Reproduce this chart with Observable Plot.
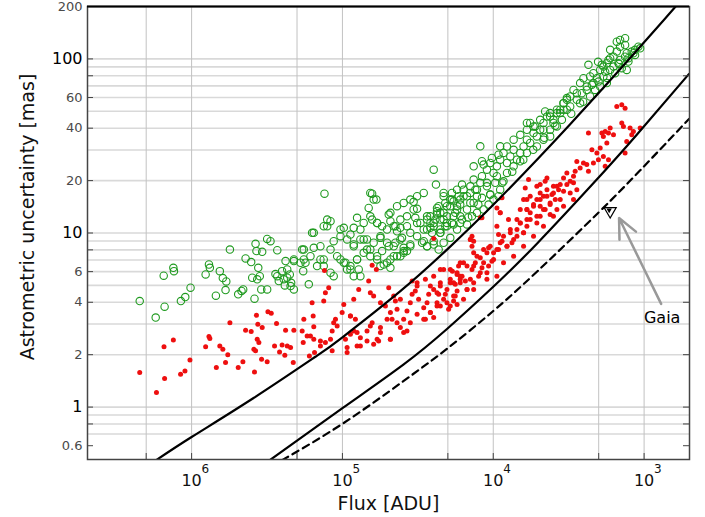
<!DOCTYPE html>
<html>
<head>
<meta charset="utf-8">
<script src="https://cdn.jsdelivr.net/npm/d3@7"></script>
<script src="https://cdn.jsdelivr.net/npm/@observablehq/plot@0.6"></script>
<style>
  body { margin: 0; background: #fff; }
</style>
</head>
<body>
<div id="chart"></div>
<script>
// Values as [log10(flux ADU), log10(uncertainty mas)]

// green open circles
const greenLog = [
[6.344,0.609],[6.238,0.514],[6.179,0.577],[6.185,0.755],[6.121,0.800],[6.117,0.781],[6.071,0.609],[6.042,0.632],[6.007,0.686],[5.907,0.762],
[5.885,0.819],[5.879,0.800],[5.813,0.781],[5.793,0.741],[5.770,0.722],[5.775,0.672],[5.839,0.640],[5.746,0.905],[5.691,0.648],[5.669,0.667],
[5.658,0.676],[5.642,0.854],[5.605,0.833],[5.576,0.938],[5.570,0.896],[5.565,0.734],[5.598,0.743],[5.583,0.623],[5.558,0.800],[5.548,0.752],
[5.532,0.892],[5.538,0.676],[5.499,0.676],[5.499,0.966],[5.477,0.953],[5.432,0.901],[5.444,0.764],[5.422,0.724],[5.400,0.781],[5.382,0.699],
[5.377,0.839],[5.366,0.743],[5.349,0.762],[5.340,0.714],[5.322,0.676],[5.322,0.839],[5.267,0.905],[5.256,0.848],[5.245,0.829],[5.260,0.781],
[5.223,0.705],[5.201,1.001],[5.190,0.915],[5.119,1.226],
[4.395,1.364],[4.380,1.278],[4.803,1.226],[4.775,1.192],[4.826,1.144],[4.528,1.179],[4.505,1.139],[5.101,1.077],[5.079,1.068],[5.124,1.039],
[4.991,1.030],[4.925,1.030],[4.881,1.020],[4.903,1.087],[4.803,1.077],[4.770,1.058],[4.737,1.039],[4.693,1.106],[4.682,1.068],[4.649,1.039],
[4.638,1.010],[4.616,1.030],[4.572,1.039],[4.517,1.087],[4.483,1.058],[4.439,1.077],[4.417,1.030],[4.395,1.058],[4.373,1.106],[4.362,1.154],
[4.351,1.077],[4.329,1.116],[4.307,1.096],[4.285,1.154],[4.263,1.182],[4.240,1.135],[4.229,1.211],[4.219,1.096],[4.307,1.039],[4.263,1.049],
[5.058,0.953],[5.146,0.924],[5.013,0.982],[4.947,0.991],[4.925,0.934],[4.859,0.963],[4.837,0.905],[4.748,0.972],[4.704,0.944],[4.660,0.924],
[4.616,0.963],[4.594,0.915],[4.550,0.934],[4.572,0.896],[4.505,0.982],[4.461,0.953],[4.439,0.924],[4.406,1.001],[4.395,0.934],[4.351,1.001],
[5.146,0.848],[5.124,0.810],[5.079,0.772],[5.058,0.752],[5.013,0.848],[4.980,0.829],[4.969,0.791],[4.947,0.810],[4.903,0.848],[4.892,0.791],
[4.925,0.752],[4.881,0.752],[4.815,0.867],[4.770,0.848],[4.748,0.810],[4.704,0.829],[4.682,0.800],[4.660,0.867],[4.616,0.867],[4.594,0.886],
[4.461,1.020],[4.417,1.058],[4.439,1.096],[4.384,1.077],[4.351,1.116],[4.373,1.144],[4.318,1.173],[4.285,1.192],[4.329,1.211],[4.274,1.230],
[4.240,1.154],[4.219,1.192],[4.197,1.249],[4.207,1.278],[4.152,1.268],[4.130,1.307],[4.174,1.211],[4.119,1.249],[4.086,1.288],[4.075,1.326],
[4.042,1.364],[4.064,1.393],[4.020,1.402],[3.998,1.345],[4.042,1.288],[3.976,1.383],[3.954,1.421],[3.932,1.460],[3.965,1.450],[3.909,1.402],
[3.887,1.440],[3.865,1.478],[3.843,1.421],[3.821,1.460],[3.799,1.497],[3.777,1.536],[3.755,1.517],[3.733,1.574],[3.711,1.555],[3.689,1.593],
[3.722,1.612],[3.667,1.632],[3.644,1.669],[3.623,1.593],[3.601,1.650],[3.578,1.689],[3.556,1.708],[3.534,1.746],[3.512,1.765],[4.152,1.173],
[4.263,1.096],[4.307,1.058],[4.351,1.020],[4.219,1.058],[4.108,1.211],[3.976,1.326],[3.909,1.345],[3.865,1.383],[3.821,1.412],[3.777,1.460],
[3.711,1.497],[3.667,1.536],[3.623,1.555],[3.578,1.612],[3.545,1.650],[4.130,1.383],[4.075,1.412],[4.009,1.431],[4.086,1.498],[3.954,1.498],
[3.777,1.632],[3.755,1.632],[3.656,1.698],[3.623,1.689],
[4.166,1.089],[4.099,1.163],[4.020,1.221],[3.940,1.289],[3.874,1.352],[3.801,1.421],[3.735,1.478],[3.662,1.547],[3.589,1.616],
[3.512,1.775],[3.468,1.822],[3.424,1.861],[3.402,1.889],[3.380,1.841],[3.358,1.899],[3.336,1.918],[3.313,1.889],[3.291,1.937],[3.270,1.956],
[3.247,1.975],[3.225,2.004],[3.203,2.013],[3.181,2.042],[3.159,2.070],[3.181,2.099],[3.126,2.119],[3.071,2.033],[3.026,2.061],[3.115,1.937],
[3.369,1.966],[3.305,1.983],[3.446,1.765],[3.490,1.727],[3.534,1.708],[3.413,1.803],[3.346,1.851],[3.302,1.870],[3.258,1.926],[3.203,1.956],
[3.159,1.994],[3.115,2.033],[3.225,2.052],[3.556,1.689],
[3.404,1.754],[3.325,1.822],[3.245,1.891],[3.166,1.971],[3.483,1.685],
[3.159,2.109],[3.126,2.080],[3.104,2.004],[3.060,2.052],[3.280,1.966],[3.236,1.994],
[4.417,1.096],[4.373,1.125],[4.329,1.077],[4.307,1.154],[4.274,1.192],[4.252,1.116],[4.219,1.163],[4.197,1.211],[4.174,1.135],[4.152,1.230],
[4.130,1.173],[4.108,1.249],[4.075,1.202],[4.042,1.268],[4.020,1.221],[3.987,1.288],[3.954,1.249],[3.932,1.297],[4.439,1.020],[4.395,1.039],
[4.351,1.001],[4.318,1.039],[4.274,1.058],[4.240,1.020],[4.207,1.077],[4.174,1.049],[4.141,1.096],[4.108,1.116],[4.064,1.135],[4.031,1.163],
[3.998,1.192],[3.965,1.211],[4.472,0.944],[4.439,0.924],[4.395,0.953],[4.362,0.905],[4.329,0.944],[4.285,0.972],
[4.550,0.924],[4.594,0.896],[4.638,0.867],[4.682,0.848],[4.726,0.819],[4.770,0.867],[4.815,0.905],[4.837,0.963],[4.748,0.982],[4.704,1.020],
[4.660,1.039],[4.616,1.077],[4.572,1.096],[4.528,1.135],[4.505,1.058],[4.550,1.001],[4.605,0.972],[4.649,0.944],[4.693,0.924],[4.737,0.896],
[4.793,0.944],[4.859,0.886],[4.903,0.848],[4.947,0.791],[4.991,0.829],[5.035,0.867],[5.079,0.905],[5.124,0.848],[5.168,0.810],[5.212,0.867],
[5.256,0.905],[5.278,0.829],[5.322,0.848],[5.366,0.791],[5.389,0.734],[5.344,0.695],[5.432,0.752],[4.925,0.924],[4.881,0.963],[4.969,0.963],
[5.013,1.020],[5.101,1.039],[5.190,1.001],[4.859,1.058],[4.815,1.096],[4.770,1.058],[4.682,1.116],[4.638,1.154],[4.594,1.173],[4.550,1.192],
[4.505,1.211],[4.461,1.230],[4.815,1.230],[4.793,1.192],[4.329,1.230],[4.240,1.249],
[3.909,1.497],[3.865,1.536],[3.821,1.564],[3.777,1.593],[3.733,1.612],[3.689,1.650],[3.667,1.593],[3.623,1.669],[3.601,1.632],[3.578,1.708],
[3.534,1.746],[3.512,1.708],[3.490,1.784],[3.446,1.803],[3.424,1.746],[3.380,1.822],[3.358,1.784],[3.336,1.861],[3.291,1.841],[3.270,1.899],
[3.247,1.861],[3.225,1.937],[3.192,1.918],[3.170,1.975],[3.148,1.947],[3.126,2.013],[3.104,1.985],[3.082,2.042],[3.060,2.023],[3.038,2.070]
];

// red filled dots
const redLog = [
[6.344,0.199],[6.233,0.084],[6.179,0.164],[6.183,0.346],[6.121,0.386],[6.073,0.189],[6.044,0.208],[6.011,0.271],[5.907,0.346],[5.885,0.405],
[5.879,0.394],[5.813,0.351],[5.793,0.332],[5.760,0.300],[5.775,0.256],[5.836,0.228],[5.746,0.485],[5.691,0.228],[5.660,0.260],[5.642,0.441],
[5.605,0.434],[5.583,0.202],[5.570,0.527],[5.561,0.476],[5.565,0.390],[5.554,0.371],[5.587,0.332],[5.576,0.323],[5.536,0.275],[5.532,0.457],
[5.499,0.260],[5.494,0.548],[5.472,0.539],[5.437,0.480],[5.450,0.351],[5.417,0.317],[5.400,0.357],[5.382,0.298],[5.377,0.441],[5.366,0.351],
[5.344,0.342],[5.326,0.256],[5.322,0.441],[5.267,0.437],[5.256,0.504],[5.260,0.371],[5.234,0.409],[5.219,0.294],[5.201,0.600],[5.194,0.523],
[5.190,0.462],[5.190,0.390],[5.185,0.313],
[4.395,0.968],[4.803,0.815],[4.775,0.791],[5.119,0.785],[4.285,0.791],[4.351,0.791],
[5.091,0.686],[5.113,0.657],[5.124,0.609],[5.146,0.380],[5.113,0.371],[5.068,0.323],[5.058,0.485],[5.068,0.437],[5.046,0.504],[4.991,0.590],
[5.002,0.543],[4.947,0.523],[4.925,0.619],[4.892,0.676],[4.914,0.504],[4.925,0.437],[4.947,0.418],[4.980,0.390],[4.969,0.342],[4.903,0.351],
[4.837,0.380],[4.881,0.399],[4.837,0.437],[4.803,0.485],[4.793,0.361],[4.760,0.380],[4.748,0.428],[4.748,0.457],[4.826,0.724],[4.815,0.657],
[4.793,0.638],[4.748,0.600],[4.715,0.581],[4.693,0.686],[4.660,0.638],[4.649,0.609],[4.616,0.619],[4.638,0.562],[4.682,0.543],[4.671,0.504],
[4.638,0.485],[4.616,0.457],[4.594,0.504],[4.572,0.437],[4.682,0.390],[4.572,0.552],[4.550,0.600],[4.538,0.648],[4.517,0.667],[4.495,0.619],
[4.505,0.533],[4.461,0.571],[4.439,0.600],[4.450,0.504],[4.417,0.543],[4.395,0.514],[4.428,0.648],[4.395,0.676],[4.373,0.600],[4.351,0.581],
[4.362,0.648],[4.329,0.619],[4.307,0.600],[4.296,0.562],[4.263,0.609],[4.240,0.590],[4.240,0.667],[4.307,0.676],[4.285,0.714],[4.252,0.705],
[4.219,0.734],[4.351,0.714],[4.395,0.752],[4.450,0.734],[4.505,0.714],[4.417,0.695],[4.538,0.724],[4.240,0.762],[4.271,0.781],
[3.148,1.632],[3.137,1.612],[3.071,1.583],[3.082,1.564],[3.115,1.526],[3.126,1.460],[3.203,1.564],[3.236,1.574],[3.270,1.555],[3.280,1.574],
[3.369,1.574],[3.247,1.517],[3.291,1.488],[3.313,1.460],[3.346,1.478],[3.303,1.421],[3.270,1.440],[3.236,1.421],[3.258,1.383],[3.336,1.402],
[3.369,1.354],[3.380,1.393],[3.402,1.402],[3.424,1.374],[3.446,1.411],[3.457,1.354],[3.468,1.326],[3.512,1.345],[3.490,1.297],[3.534,1.316],
[3.556,1.278],[3.567,1.249],[3.601,1.268],[3.611,1.221],[3.644,1.316],[3.644,1.249],[3.667,1.211],[3.689,1.230],[3.711,1.192],[3.733,1.163],
[3.689,1.154],[3.656,1.135],[3.623,1.163],[3.589,1.192],[3.578,1.135],[3.623,1.106],[3.689,1.096],[3.711,1.058],[3.755,1.077],[3.777,1.039],
[3.821,1.058],[3.799,1.001],[3.843,1.077],[3.899,1.077],[3.887,1.020],[3.843,0.982],[3.876,0.944],[3.909,0.924],[3.942,0.953],[3.965,0.991],
[3.976,1.039],[3.954,1.116],[3.965,0.905],[3.998,0.886],[4.031,0.915],[4.064,0.905],[4.086,0.858],[4.130,0.886],[4.141,0.924],[4.152,0.963],
[4.119,0.829],[4.075,0.800],[4.031,0.810],[4.009,0.838],[4.042,0.772],[4.097,0.752],[4.141,0.791],[4.174,0.810],[4.197,0.829],[4.230,0.810],
[4.219,0.752],[4.185,0.724],[4.263,0.714],[4.318,0.648],[4.252,0.638],[4.174,0.676],[4.130,0.714],[3.755,1.211],[3.777,1.192],[3.788,1.259],
[3.766,1.307],[3.711,1.268],[3.689,1.278],[3.777,1.135],[3.821,1.135],[3.656,1.297],[3.942,1.202],[3.976,1.144],[4.075,1.087],[4.141,0.982],
[4.130,0.953],
[3.181,1.727],[3.148,1.736],[3.126,1.717],[3.225,1.603],[3.258,1.583],[3.093,1.603],[3.026,1.603],
[4.373,0.657],[4.351,0.695],[4.285,0.734],[4.263,0.638],[4.240,0.772],[4.219,0.714],[4.207,0.752],[4.174,0.676],[4.152,0.734],[4.130,0.810],
[4.108,0.867],[4.086,0.772],[4.064,0.829],[4.042,0.886],[4.020,0.924],[3.998,0.848],[3.976,0.905],[3.954,0.944],[3.932,0.982],[3.909,0.924],
[3.887,1.001],[3.865,0.963],[3.843,1.020],[3.821,1.058],[3.799,1.001],[3.777,1.077],[3.755,1.116],[3.733,1.154],[3.711,1.096],[3.689,1.192],
[3.667,1.135],[3.644,1.211],[3.623,1.173],[3.601,1.230],[3.578,1.268],[3.556,1.192],[3.534,1.240],[3.512,1.278],[3.490,1.230],[3.468,1.288],
[3.446,1.249],[3.799,1.192],[3.777,1.135],[3.954,1.116],[4.086,1.087],[4.152,0.963],[4.219,0.829],[4.329,0.791],[4.505,0.695],[4.704,0.504],
[4.815,0.466],[4.903,0.428],[4.947,0.523],[5.035,0.466],[5.079,0.390],[5.146,0.351],[5.212,0.409],[4.969,0.313],[4.881,0.351],[4.770,0.390],
[4.682,0.390],[4.594,0.428],[4.550,0.485],[4.461,0.504],[4.417,0.543],[4.373,0.581],[4.285,0.581],[4.197,0.619],[4.130,0.676],[4.042,0.734],
[3.976,0.752],[3.932,0.829],[3.865,0.867],[3.799,0.924],[3.733,0.982],[3.667,1.039],[3.601,1.096],[3.534,1.154],[3.468,1.192]
];

// model curves
const curveUpperLog = [[6.235,-0.305],[6.000,-0.172],[5.589,0.052],[5.179,0.289],[5.000,0.401],[4.616,0.666],[4.305,0.906],[4.000,1.162],[3.490,1.625],[2.960,2.134],[2.695,2.397]];
const curveLowerLog = [[5.482,-0.305],[5.000,-0.006],[4.596,0.244],[4.305,0.450],[4.000,0.691],[3.709,0.940],[3.338,1.284],[3.060,1.553],[2.702,1.914]];
const curveDashedLog = [[5.400,-0.305],[5.000,-0.096],[4.596,0.149],[4.305,0.336],[4.000,0.552],[3.709,0.779],[3.305,1.115],[3.026,1.360],[2.702,1.655]];

// Gaia annotation
const gaiaLog = [3.225, 1.126];
const gaiaArrowLog = {from: [2.887, 0.593], to: [3.166, 1.086]};
const gaiaLabelLog = [2.880, 0.513];
const gaiaText = "Gaia";

// axes
const xDomain = [4.9e6, 500];
const yDomain = [0.5, 200];
const xTicks = [1e6, 1e5, 1e4, 1e3];
const xExponents = ["6", "5", "4", "3"];
const xGrid = [2e6, 1e6, 2e5, 1e5, 2e4, 1e4, 2e3, 1e3];
const yMajorTicks = [1, 10, 100];
const yMajorLabels = ["1", "10", "100"];
const yMinorTicks = [0.6, 2, 4, 6, 20, 40, 60, 200];
const yMinorLabels = ["0.6", "2", "4", "6", "20", "40", "60", "200"];
const yTickMarks = [0.6, 0.8, 1, 2, 4, 6, 8, 10, 20, 40, 60, 80, 100, 200];
const yGrid = [0.7,0.8,0.9,1,2,3,4,5,6,7,8,9,10,20,30,40,50,60,70,80,90,100,200];
const xTitle = "Flux [ADU]";
const yTitle = "Astrometric uncertainty [mas]";

const toPt = ([lf, ls]) => ({flux: 10 ** lf, sigma: 10 ** ls});
const green = greenLog.map(toPt);
const red = redLog.map(toPt);
const curveUpper = curveUpperLog.map(toPt);
const curveLower = curveLowerLog.map(toPt);
const curveDashed = curveDashedLog.map(toPt);
const gaia = [toPt(gaiaLog)];
const arrow = [{x1: 10 ** gaiaArrowLog.from[0], y1: 10 ** gaiaArrowLog.from[1], x2: 10 ** gaiaArrowLog.to[0], y2: 10 ** gaiaArrowLog.to[1]}];
const gaiaLabel = [{...toPt(gaiaLabelLog), text: gaiaText}];

const W = 705, H = 517, mL = 87, mR = 16, mT = 6, mB = 58;
const innerW = W - mL - mR, innerH = H - mT - mB;

const chart = Plot.plot({
  width: W, height: H,
  marginLeft: mL, marginRight: mR, marginTop: mT, marginBottom: mB,
  style: {fontFamily: "DejaVu Sans, sans-serif", background: "#fff", overflow: "visible"},
  x: {type: "log", domain: xDomain, axis: null},
  y: {type: "log", domain: yDomain, axis: null},
  marks: [
    Plot.ruleY(yGrid, {stroke: "#d9d9d9", strokeWidth: 1.6}),
    Plot.ruleX(xGrid, {stroke: "#c2c2c2", strokeWidth: 1}),
    Plot.dot(green, {x: "flux", y: "sigma", r: 3.7, stroke: "#1f9a1f", strokeWidth: 1.1, fill: "none"}),
    Plot.dot(red, {x: "flux", y: "sigma", r: 2.5, fill: "#ee0f0f", stroke: "none"}),
    Plot.line(curveUpper, {x: "flux", y: "sigma", stroke: "#000", strokeWidth: 2.2, curve: "natural", clip: true}),
    Plot.line(curveLower, {x: "flux", y: "sigma", stroke: "#000", strokeWidth: 2.2, curve: "natural", clip: true}),
    Plot.line(curveDashed, {x: "flux", y: "sigma", stroke: "#000", strokeWidth: 2.2, strokeDasharray: "7,5", curve: "natural", clip: true}),
    Plot.arrow(arrow, {x1: "x1", y1: "y1", x2: "x2", y2: "y2", bend: 0, stroke: "#999", strokeWidth: 2.5, headLength: 13, headAngle: 50}),
    Plot.dot(gaia, {x: "flux", y: "sigma", symbol: "triangle", rotate: 180, r: 4.5, fill: "#fff", stroke: "#000", strokeWidth: 1.2}),
    Plot.dot(gaia, {x: "flux", y: "sigma", symbol: "triangle", rotate: 180, r: 2, dx: -1, dy: -1, fill: "#000", stroke: "none"}),
    Plot.text(gaiaLabel, {x: "flux", y: "sigma", text: "text", fontSize: 16, fill: "#000"}),
    Plot.ruleY(yTickMarks, {insetRight: innerW - 6, stroke: "#444", strokeWidth: 1}),
    Plot.ruleY(yTickMarks, {insetLeft: innerW - 6, stroke: "#444", strokeWidth: 1}),
    Plot.ruleX(xGrid, {insetTop: innerH - 6, stroke: "#444", strokeWidth: 1}),
    Plot.frame({stroke: "#444", strokeWidth: 1.5}),
    Plot.ruleY([200], {stroke: "#000", strokeWidth: 2}),
    Plot.text(yMajorTicks, {y: d => d, frameAnchor: "left", textAnchor: "end", lineAnchor: "middle", text: (d, i) => yMajorLabels[i], dx: -5, fontSize: 16, fill: "#000"}),
    Plot.text(yMinorTicks, {y: d => d, frameAnchor: "left", textAnchor: "end", lineAnchor: "middle", text: (d, i) => yMinorLabels[i], dx: -5, fontSize: 13, fill: "#4a4a4a"}),
    Plot.text(xTicks, {x: d => d, frameAnchor: "bottom", lineAnchor: "middle", text: () => "10", dy: 21, fontSize: 16, fill: "#111"}),
    Plot.text(xTicks, {x: d => d, frameAnchor: "bottom", lineAnchor: "middle", text: (d, i) => xExponents[i], dx: 10, dy: 10, textAnchor: "start", fontSize: 12, fill: "#111"}),
    Plot.text([xTitle], {frameAnchor: "bottom", lineAnchor: "middle", textAnchor: "middle", dy: 44, fontSize: 19, fill: "#111"}),
    Plot.text([yTitle], {frameAnchor: "left", lineAnchor: "middle", textAnchor: "middle", dx: -60, dy: -16, rotate: -90, fontSize: 19, fill: "#111"})
  ]
});

document.getElementById("chart").appendChild(chart);
</script>
</body>
</html>
